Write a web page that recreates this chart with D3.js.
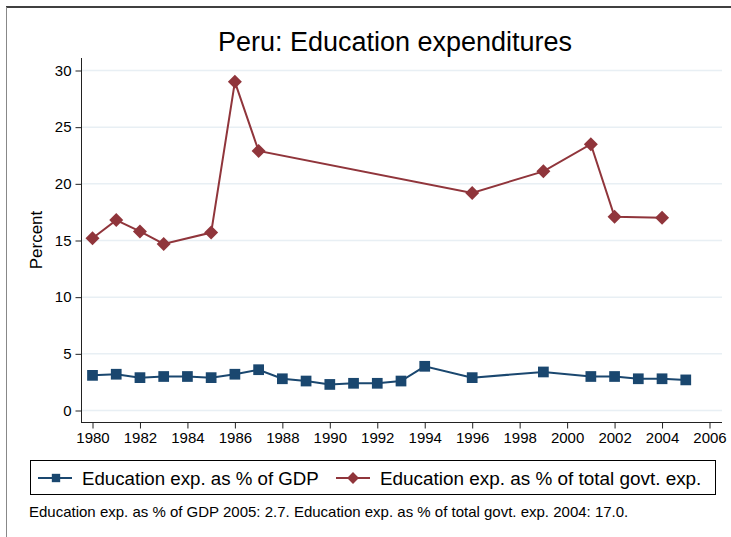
<!DOCTYPE html>
<html><head><meta charset="utf-8">
<script src="https://cdn.jsdelivr.net/npm/d3@7"></script>
<style>body{margin:0;background:#fff;font-family:"Liberation Sans",Arial,sans-serif}</style>
</head><body><svg id="c" width="731" height="537"></svg>
<script>
const gdpYears = [1980,1981,1982,1983,1984,1985,1986,1987,1988,1989,1990,1991,1992,1993,1994,1996,1999,2001,2002,2003,2004,2005];
const gdpValues = [3.1,3.2,2.9,3.0,3.0,2.9,3.2,3.6,2.8,2.6,2.3,2.4,2.4,2.6,3.9,2.9,3.4,3.0,3.0,2.8,2.8,2.7];
const govYears = [1980,1981,1982,1983,1985,1986,1987,1996,1999,2001,2002,2004];
const govValues = [15.2,16.8,15.8,14.7,15.7,29.0,22.9,19.2,21.1,23.5,17.1,17.0];
const xTicks = [1980,1982,1984,1986,1988,1990,1992,1994,1996,1998,2000,2002,2004,2006];
const yTicks = [0,5,10,15,20,25,30];
const seriesNames = ["Education exp. as % of GDP","Education exp. as % of total govt. exp."];
const titleText = "Peru: Education expenditures";
const noteText = "Education exp. as % of GDP 2005: 2.7. Education exp. as % of total govt. exp. 2004: 17.0.";

const blue = "#1a476f", red = "#90353b";
const svg = d3.select("#c");
const x = d3.scaleLinear().domain([1980,2006]).range([92.5,709.5]);
const y = d3.scaleLinear().domain([0,30]).range([410.5,70.5]);

// outer frame
svg.append("line").attr("x1",6).attr("x2",731).attr("y1",7).attr("y2",7).attr("stroke","#000").attr("stroke-width",1.6);
svg.append("line").attr("x1",6.5).attr("x2",6.5).attr("y1",7).attr("y2",537).attr("stroke","#888").attr("stroke-width",1);

// title
svg.append("text").attr("x",395).attr("y",51).attr("text-anchor","middle").attr("font-size",27).attr("fill","#000").text(titleText);

// grid
svg.append("g").selectAll("line").data(yTicks).join("line")
  .attr("x1",82).attr("x2",722).attr("y1",d=>y(d)).attr("y2",d=>y(d))
  .attr("stroke","#e8eff4").attr("stroke-width",1.5);

// axes
const yAxis = svg.append("g").attr("transform","translate(81.5,0)")
  .call(d3.axisLeft(y).tickValues(yTicks).tickSize(6).tickPadding(4));
yAxis.select(".domain").attr("d","M0,58V422.5");
const xAxis = svg.append("g").attr("transform","translate(0,422.5)")
  .call(d3.axisBottom(x).tickValues(xTicks).tickFormat(d3.format("d")).tickSize(6).tickPadding(4));
xAxis.select(".domain").attr("d","M81,0H722");
[xAxis,yAxis].forEach(a=>{
  a.selectAll("text").attr("font-size",15).attr("font-family","Liberation Sans, Arial, sans-serif").attr("fill","#000");
  a.selectAll("line,.domain").attr("stroke","#222");
});

svg.append("text").attr("transform","translate(42,240) rotate(-90)").attr("text-anchor","middle")
  .attr("font-size",17).attr("fill","#000").text("Percent");

// series
const line = d3.line().x(d=>x(d[0])).y(d=>y(d[1]));
const gdp = gdpYears.map((yr,i)=>[yr,gdpValues[i]]);
const gov = govYears.map((yr,i)=>[yr,govValues[i]]);
svg.append("path").datum(gov).attr("d",line).attr("fill","none").attr("stroke",red).attr("stroke-width",2);
svg.append("path").datum(gdp).attr("d",line).attr("fill","none").attr("stroke",blue).attr("stroke-width",2);
const sq = d3.symbol().type(d3.symbolSquare).size(115);
svg.append("g").selectAll("path").data(gov).join("path")
  .attr("d",d3.symbol().type(d3.symbolSquare).size(98)).attr("transform",d=>`translate(${x(d[0])},${y(d[1])}) rotate(45)`).attr("fill",red);
svg.append("g").selectAll("path").data(gdp).join("path")
  .attr("d",sq).attr("transform",d=>`translate(${x(d[0])},${y(d[1])})`).attr("fill",blue);

// legend
svg.append("rect").attr("x",30.5).attr("y",460.5).attr("width",685).attr("height",34).attr("fill","none").attr("stroke","#000").attr("stroke-width",1);
const ly = 478;
svg.append("line").attr("x1",38).attr("x2",72).attr("y1",ly).attr("y2",ly).attr("stroke",blue).attr("stroke-width",2);
svg.append("path").attr("d",d3.symbol().type(d3.symbolSquare).size(70)).attr("transform",`translate(56,${ly})`).attr("fill",blue);
svg.append("text").attr("x",82).attr("y",ly+6.5).attr("font-size",18.7).attr("fill","#000").text(seriesNames[0]);
svg.append("line").attr("x1",336).attr("x2",370).attr("y1",ly).attr("y2",ly).attr("stroke",red).attr("stroke-width",2);
svg.append("path").attr("d",d3.symbol().type(d3.symbolSquare).size(70)).attr("transform",`translate(353,${ly}) rotate(45)`).attr("fill",red);
svg.append("text").attr("x",380).attr("y",ly+6.5).attr("font-size",18.9).attr("fill","#000").text(seriesNames[1]);

// note
svg.append("text").attr("x",29).attr("y",517).attr("font-size",15).attr("fill","#000").text(noteText);
</script></body></html>
